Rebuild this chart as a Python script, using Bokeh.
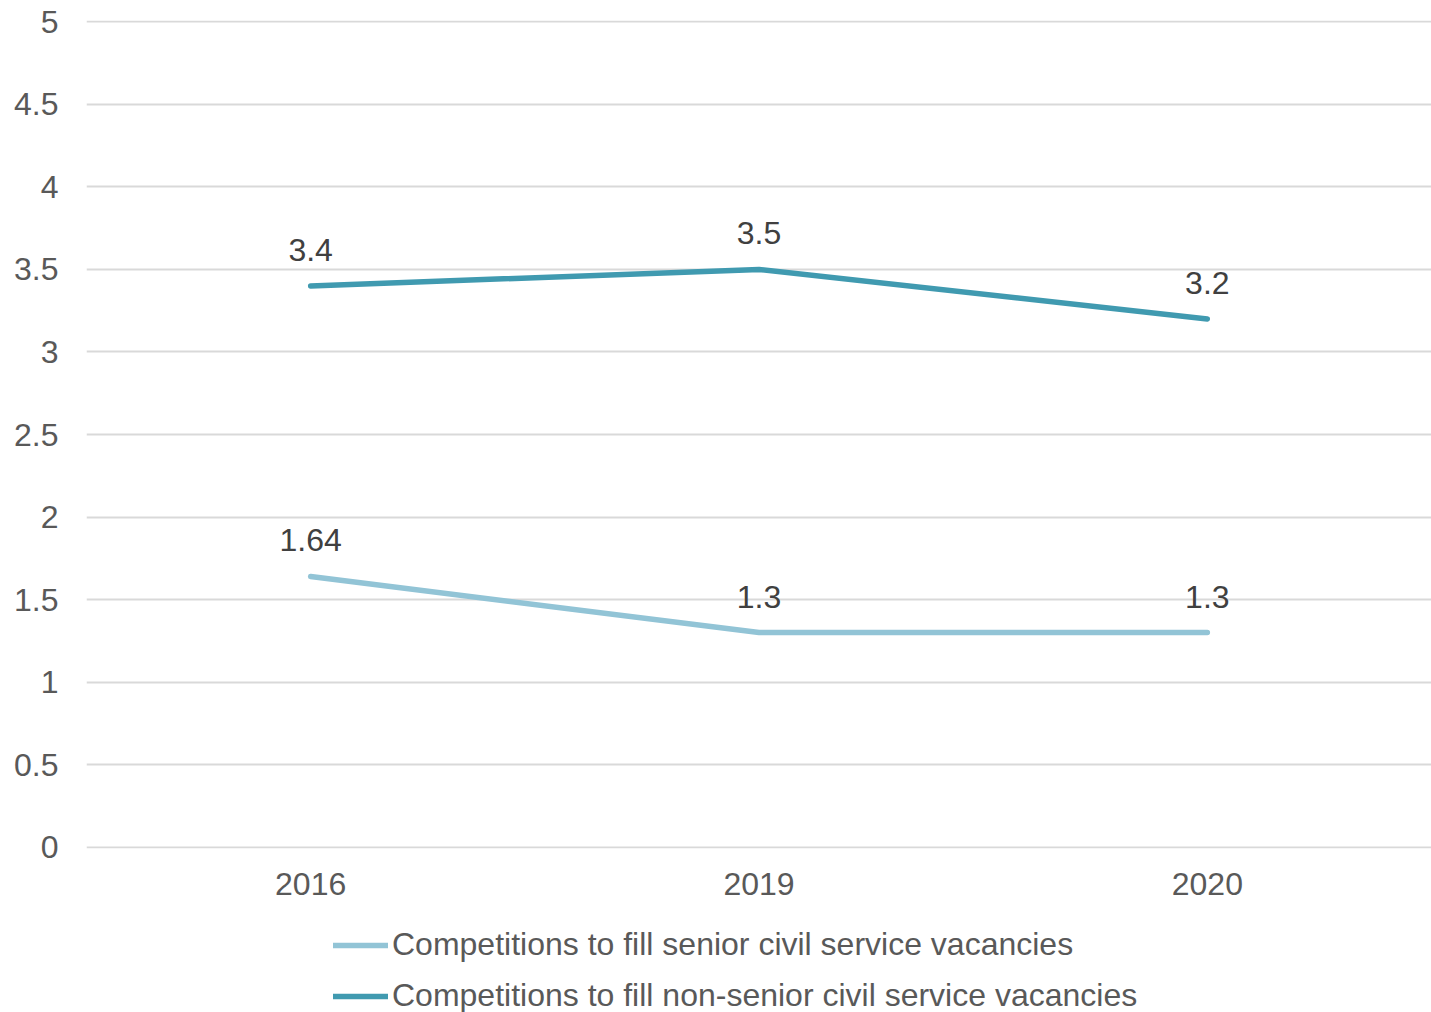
from bokeh.plotting import figure
from bokeh.layouts import column
from bokeh.models import ColumnDataSource, FactorRange, Range1d, FixedTicker, NumeralTickFormatter, Legend, LegendItem
from bokeh.core.properties import value
from bokeh.embed import file_html
from bokeh.resources import INLINE

years = ["2016", "2019", "2020"]
senior = [1.64, 1.3, 1.3]
non_senior = [3.4, 3.5, 3.2]
senior_labels = ["1.64", "1.3", "1.3"]
non_senior_labels = ["3.4", "3.5", "3.2"]
series_names = ["Competitions to fill senior civil service vacancies",
                "Competitions to fill non-senior civil service vacancies"]
y_ticks = [0, 0.5, 1, 1.5, 2, 2.5, 3, 3.5, 4, 4.5, 5]

FONT = "Liberation Sans"
FS = "32px"
LIGHT = "#92C4D6"
DARK = "#409AB0"

p = figure(width=1431, height=912, x_range=FactorRange(*years, range_padding=0),
           y_range=Range1d(-0.008, 5.008), output_backend="svg", toolbar_location=None,
           min_border_left=86, min_border_right=0, min_border_top=20, min_border_bottom=64)
p.outline_line_color = None
p.background_fill_color = "white"
p.border_fill_color = "white"

src_s = ColumnDataSource(dict(x=years, y=senior, t=senior_labels))
src_n = ColumnDataSource(dict(x=years, y=non_senior, t=non_senior_labels))

p.line("x", "y", source=src_s, line_color=LIGHT, line_width=5.5, line_cap="round", line_join="round")
p.line("x", "y", source=src_n, line_color=DARK, line_width=5.5, line_cap="round", line_join="round")

for src in (src_s, src_n):
    p.text("x", "y", text="t", source=src, text_font=value(FONT), text_font_size=FS,
           text_color="#404040", text_align="center", text_baseline="middle", y_offset=-36)

p.xgrid.grid_line_color = None
p.ygrid.grid_line_color = "#D9D9D9"
p.ygrid.grid_line_width = 2
p.yaxis.ticker = FixedTicker(ticks=y_ticks)
p.yaxis.formatter = NumeralTickFormatter(format="0.[0]")

for ax in (p.xaxis[0], p.yaxis[0]):
    ax.axis_line_color = None
    ax.major_tick_line_color = None
    ax.minor_tick_line_color = None
    ax.major_label_text_font = FONT
    ax.major_label_text_font_size = FS
    ax.major_label_text_color = "#595959"
p.yaxis.major_label_standoff = 22
p.xaxis.major_label_standoff = 18

# legend strip below the chart
q = figure(width=1431, height=100, x_range=Range1d(0, 1), y_range=Range1d(0, 1),
           output_backend="svg", toolbar_location=None,
           min_border_left=0, min_border_right=0, min_border_top=0, min_border_bottom=0)
q.axis.visible = False
q.grid.grid_line_color = None
q.outline_line_color = None
q.border_fill_color = "white"
l1 = q.line(x=[5, 6], y=[5, 6], line_color=LIGHT, line_width=5.5, line_cap="round")
l2 = q.line(x=[5, 6], y=[5, 6], line_color=DARK, line_width=5.5, line_cap="round")

legend = Legend(items=[LegendItem(label=series_names[0], renderers=[l1]),
                       LegendItem(label=series_names[1], renderers=[l2])],
                location=(247, -2), orientation="vertical",
                glyph_width=55, glyph_height=30, label_height=30, spacing=14,
                label_standoff=4, padding=0, margin=0,
                label_text_font=FONT, label_text_font_size=FS, label_text_color="#595959",
                border_line_color=None, background_fill_alpha=0)
q.add_layout(legend, "center")

layout = column(p, q, spacing=0)
open("out.html", "w").write(file_html(layout, INLINE))
